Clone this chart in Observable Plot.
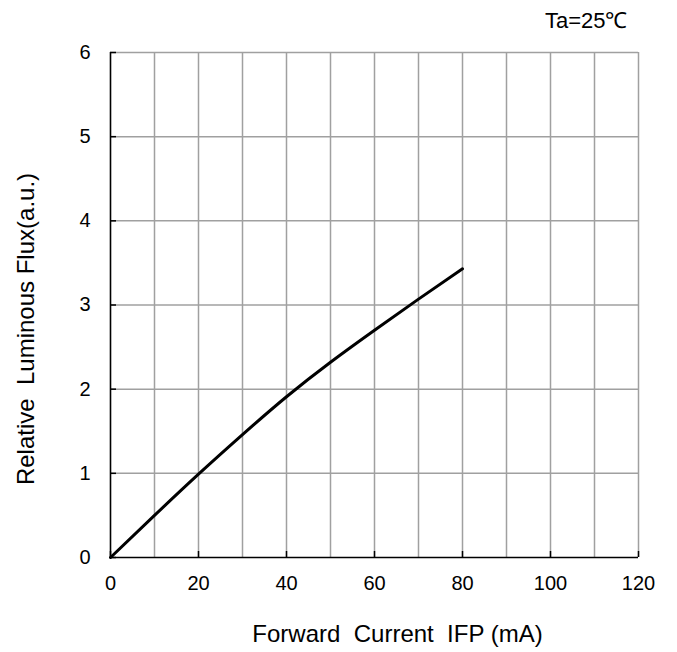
<!DOCTYPE html>
<html><head><meta charset="utf-8">
<script src="https://cdn.jsdelivr.net/npm/d3@7"></script>
<script src="https://cdn.jsdelivr.net/npm/@observablehq/plot@0.6"></script>
<style>
body{margin:0;background:#fff}
svg text{white-space:pre;font-family:"Liberation Sans",Arial,Helvetica,sans-serif}
</style>
</head><body><div id="chart"></div>
<script>
const current = [0, 10, 20, 30, 40, 50, 60, 70, 80];
const flux = [0, 0.5, 0.99, 1.46, 1.91, 2.32, 2.7, 3.07, 3.43];
const xTicks = [0, 20, 40, 60, 80, 100, 120];
const yTicks = [0, 1, 2, 3, 4, 5, 6];
const xGrid = [10, 20, 30, 40, 50, 60, 70, 80, 90, 100, 110, 120];
const yGrid = [1, 2, 3, 4, 5, 6];
const xTitle = "Forward  Current  IFP (mA)";
const yTitle = "Relative  Luminous Flux(a.u.)";
const note = "Ta=25℃";

const data = current.map((c, i) => ({current: c, flux: flux[i]}));

const W = 677, H = 652, mL = 110, mR = 39, mT = 52, mB = 95;
const fw = W - mL - mR, fh = H - mT - mB;

const chart = Plot.plot({
  width: W, height: H,
  marginLeft: mL, marginRight: mR, marginTop: mT, marginBottom: mB,
  style: {fontFamily: "Liberation Sans", fontSize: "20px", color: "#000", background: "#fff"},
  x: {domain: [0, 120]},
  y: {domain: [0, 6]},
  marks: [
    Plot.gridX(xGrid, {stroke: "#a0a0a0", strokeOpacity: 1, strokeWidth: 1.5}),
    Plot.gridY(yGrid, {stroke: "#a0a0a0", strokeOpacity: 1, strokeWidth: 1.5}),
    Plot.ruleY([0], {stroke: "#000", strokeWidth: 1.6}),
    Plot.ruleX([0], {stroke: "#000", strokeWidth: 1.6}),
    Plot.tickX(xTicks, {x: d => d, stroke: "#000", strokeWidth: 1.5, insetTop: fh - 6}),
    Plot.tickY(yTicks, {y: d => d, stroke: "#000", strokeWidth: 1.5, insetRight: fw - 6}),
    Plot.axisX(xTicks, {tickSize: 0, tickPadding: 18, label: null, fontSize: 20, tickFormat: d => String(d)}),
    Plot.axisY(yTicks, {tickSize: 0, tickPadding: 20, label: null, fontSize: 20, tickFormat: d => String(d)}),
    Plot.line(data, {x: "current", y: "flux", curve: "natural", stroke: "#000", strokeWidth: 3}),
    Plot.text([xTitle], {text: d => d, frameAnchor: "bottom", textAnchor: "middle", lineAnchor: "middle", dy: 77, dx: 23, fontSize: 24, fill: "#000"}),
    Plot.text([yTitle], {text: d => d, frameAnchor: "left", textAnchor: "middle", lineAnchor: "middle", rotate: -90, dx: -84, dy: 24, fontSize: 24, fill: "#000"}),
    Plot.text([note], {text: d => d, frameAnchor: "top-right", textAnchor: "end", lineAnchor: "middle", dx: -11, dy: -32, fontSize: 22, fill: "#000"})
  ]
});
document.getElementById("chart").appendChild(chart);
</script>
</body></html>
